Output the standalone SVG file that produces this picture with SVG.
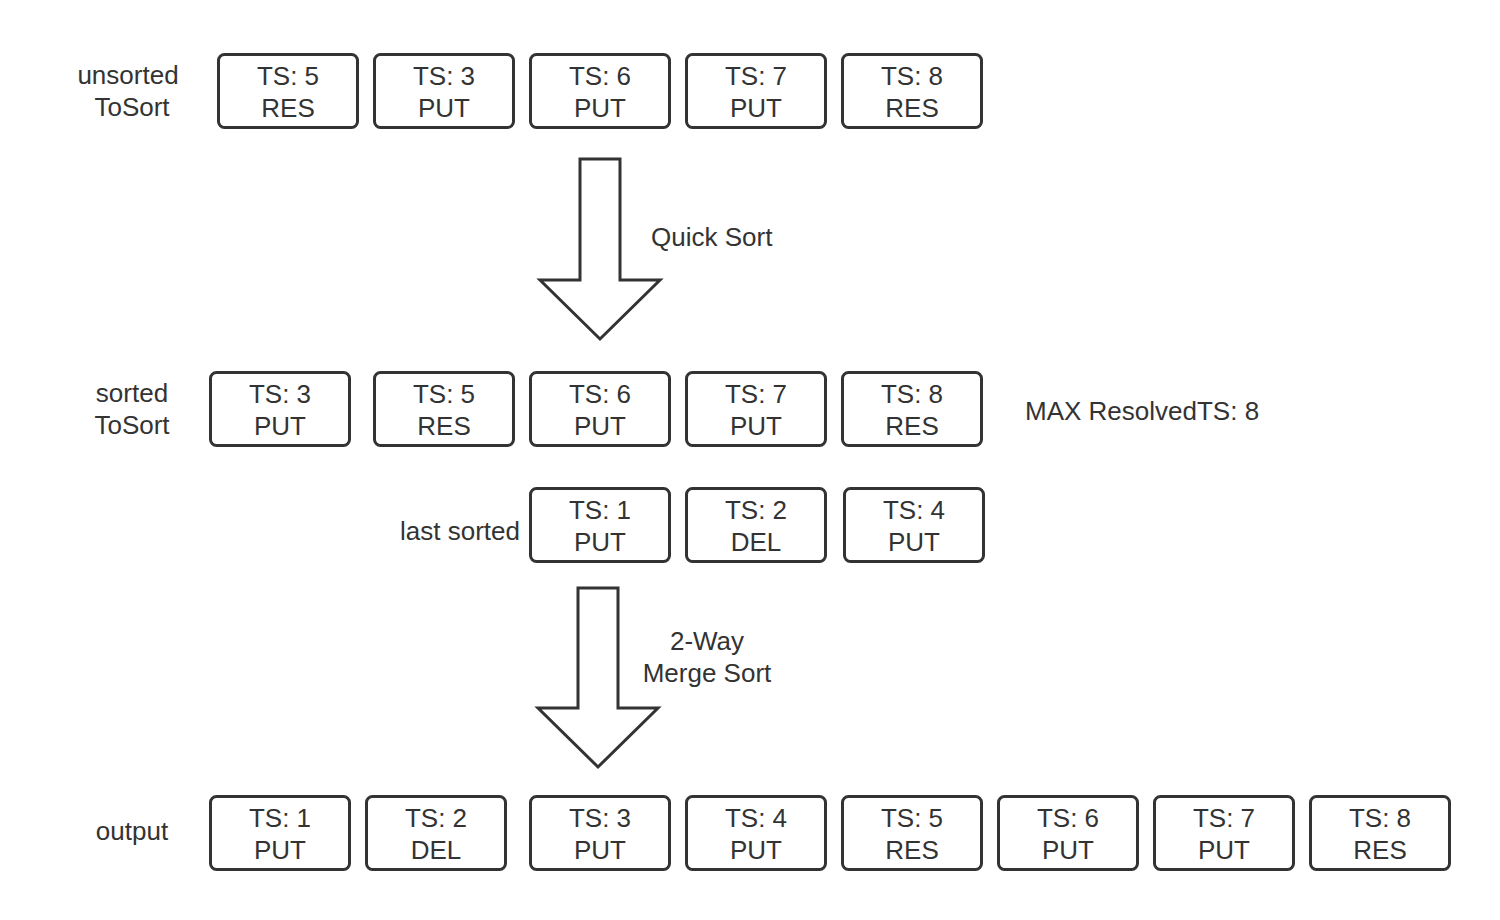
<svg xmlns="http://www.w3.org/2000/svg" width="1500" height="920" viewBox="0 0 1500 920">
<style>
.box{fill:#fff;stroke:#333;stroke-width:3}
.t{font-family:"Liberation Sans",Arial,sans-serif;font-size:26px;fill:#333;text-anchor:middle}
.l{font-family:"Liberation Sans",Arial,sans-serif;font-size:26px;fill:#333}
.arrow{fill:#fff;stroke:#333;stroke-width:3;stroke-linejoin:miter}
</style>
<rect width="1500" height="920" fill="#fff"/>
<defs>
<g id="cell"><rect class="box" x="1.5" y="1.5" width="139" height="73" rx="6"/></g>
</defs>
<g id="labels">
<text class="t" x="128" y="84">unsorted</text>
<text class="t" x="132" y="116">ToSort</text>
<text class="t" x="132" y="402">sorted</text>
<text class="t" x="132" y="434">ToSort</text>
<text class="l" x="520" y="540" text-anchor="end">last sorted</text>
<text class="t" x="132" y="840">output</text>
<text class="l" x="1025" y="420">MAX ResolvedTS: 8</text>
</g>
<g id="connectors">
<polygon class="arrow" points="580,159 620,159 620,280 660,280 600,339 540,280 580,280"/>
<text class="l" x="651" y="246">Quick Sort</text>
<polygon class="arrow" points="578,588 618,588 618,708 658,708 598,767 538,708 578,708"/>
<text class="t" x="707" y="650">2-Way</text>
<text class="t" x="707" y="682">Merge Sort</text>
</g>
<g id="u1" transform="translate(217,53)"><use href="#cell"/><text class="t" x="71" y="32">TS: 5</text><text class="t" x="71" y="64">RES</text></g>
<g id="u2" transform="translate(373,53)"><use href="#cell"/><text class="t" x="71" y="32">TS: 3</text><text class="t" x="71" y="64">PUT</text></g>
<g id="u3" transform="translate(529,53)"><use href="#cell"/><text class="t" x="71" y="32">TS: 6</text><text class="t" x="71" y="64">PUT</text></g>
<g id="u4" transform="translate(685,53)"><use href="#cell"/><text class="t" x="71" y="32">TS: 7</text><text class="t" x="71" y="64">PUT</text></g>
<g id="u5" transform="translate(841,53)"><use href="#cell"/><text class="t" x="71" y="32">TS: 8</text><text class="t" x="71" y="64">RES</text></g>

<g id="s1" transform="translate(209,371)"><use href="#cell"/><text class="t" x="71" y="32">TS: 3</text><text class="t" x="71" y="64">PUT</text></g>
<g id="s2" transform="translate(373,371)"><use href="#cell"/><text class="t" x="71" y="32">TS: 5</text><text class="t" x="71" y="64">RES</text></g>
<g id="s3" transform="translate(529,371)"><use href="#cell"/><text class="t" x="71" y="32">TS: 6</text><text class="t" x="71" y="64">PUT</text></g>
<g id="s4" transform="translate(685,371)"><use href="#cell"/><text class="t" x="71" y="32">TS: 7</text><text class="t" x="71" y="64">PUT</text></g>
<g id="s5" transform="translate(841,371)"><use href="#cell"/><text class="t" x="71" y="32">TS: 8</text><text class="t" x="71" y="64">RES</text></g>

<g id="l1" transform="translate(529,487)"><use href="#cell"/><text class="t" x="71" y="32">TS: 1</text><text class="t" x="71" y="64">PUT</text></g>
<g id="l2" transform="translate(685,487)"><use href="#cell"/><text class="t" x="71" y="32">TS: 2</text><text class="t" x="71" y="64">DEL</text></g>
<g id="l3" transform="translate(843,487)"><use href="#cell"/><text class="t" x="71" y="32">TS: 4</text><text class="t" x="71" y="64">PUT</text></g>

<g id="o1" transform="translate(209,795)"><use href="#cell"/><text class="t" x="71" y="32">TS: 1</text><text class="t" x="71" y="64">PUT</text></g>
<g id="o2" transform="translate(365,795)"><use href="#cell"/><text class="t" x="71" y="32">TS: 2</text><text class="t" x="71" y="64">DEL</text></g>
<g id="o3" transform="translate(529,795)"><use href="#cell"/><text class="t" x="71" y="32">TS: 3</text><text class="t" x="71" y="64">PUT</text></g>
<g id="o4" transform="translate(685,795)"><use href="#cell"/><text class="t" x="71" y="32">TS: 4</text><text class="t" x="71" y="64">PUT</text></g>
<g id="o5" transform="translate(841,795)"><use href="#cell"/><text class="t" x="71" y="32">TS: 5</text><text class="t" x="71" y="64">RES</text></g>
<g id="o6" transform="translate(997,795)"><use href="#cell"/><text class="t" x="71" y="32">TS: 6</text><text class="t" x="71" y="64">PUT</text></g>
<g id="o7" transform="translate(1153,795)"><use href="#cell"/><text class="t" x="71" y="32">TS: 7</text><text class="t" x="71" y="64">PUT</text></g>
<g id="o8" transform="translate(1309,795)"><use href="#cell"/><text class="t" x="71" y="32">TS: 8</text><text class="t" x="71" y="64">RES</text></g>
</svg>
